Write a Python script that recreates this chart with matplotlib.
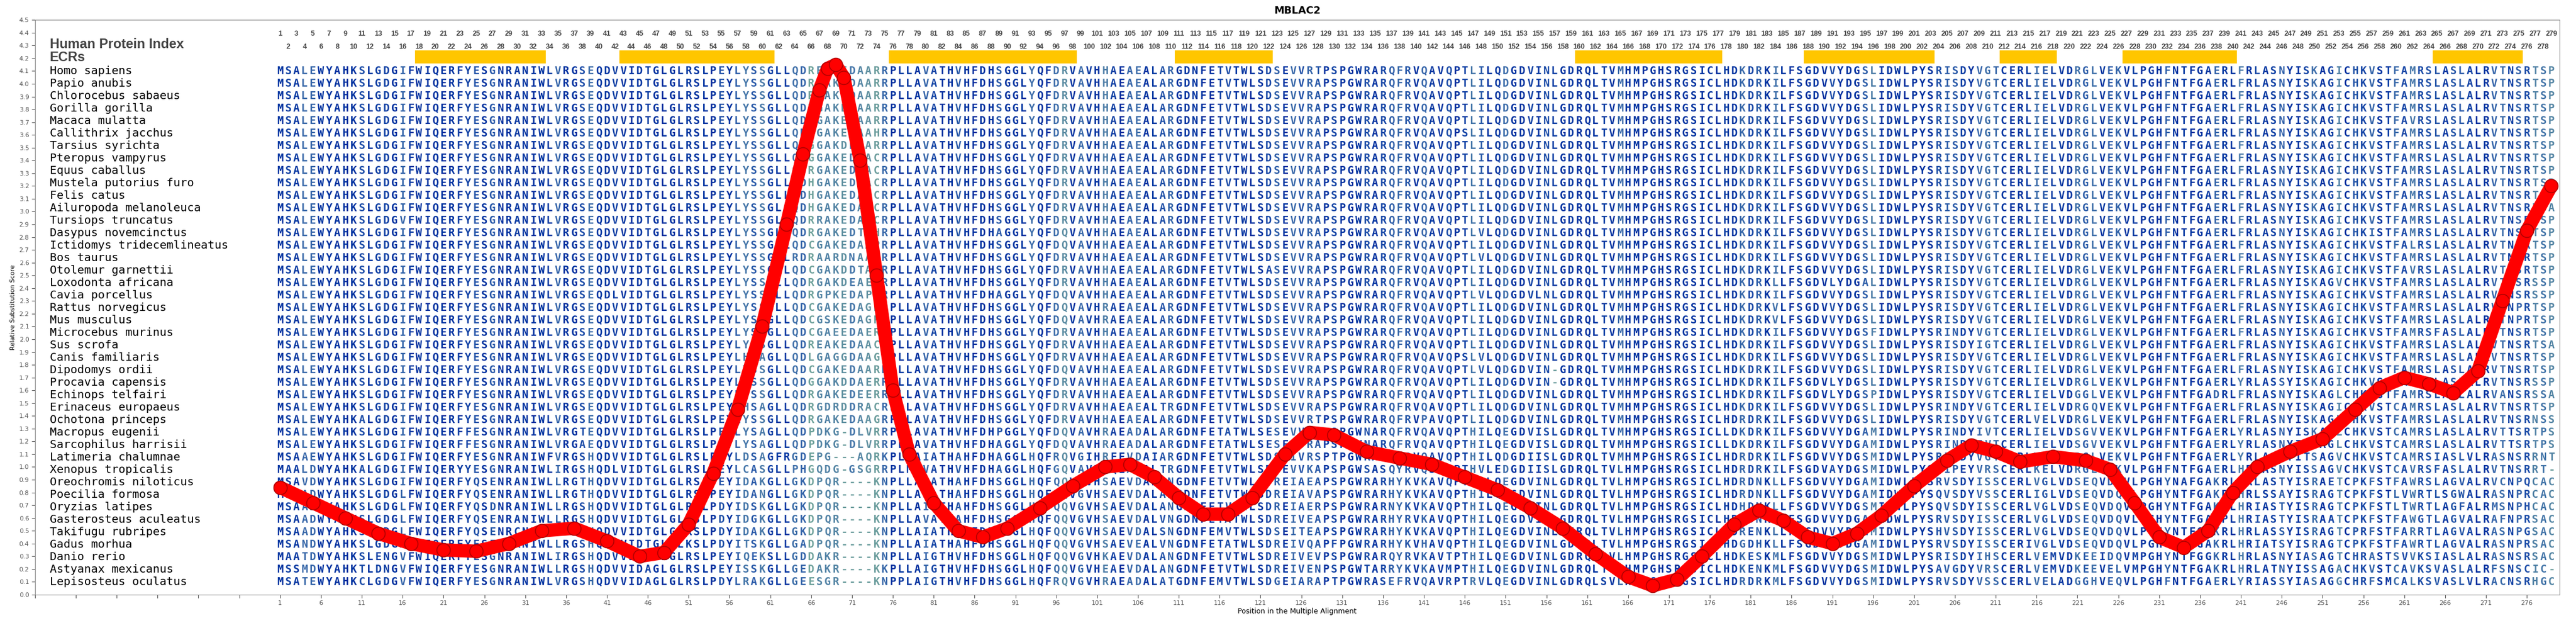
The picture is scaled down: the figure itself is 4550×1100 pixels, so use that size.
"""MBLAC2 multiple alignment with relative substitution score overlay."""

from collections import Counter

import matplotlib
matplotlib.use('Agg')
import matplotlib.pyplot as plt
from matplotlib.colors import LinearSegmentedColormap

TITLE = 'MBLAC2'

SPECIES = [
    'Homo sapiens', 'Papio anubis', 'Chlorocebus sabaeus', 'Gorilla gorilla',
    'Macaca mulatta', 'Callithrix jacchus', 'Tarsius syrichta', 'Pteropus vampyrus',
    'Equus caballus', 'Mustela putorius furo', 'Felis catus', 'Ailuropoda melanoleuca',
    'Tursiops truncatus', 'Dasypus novemcinctus', 'Ictidomys tridecemlineatus',
    'Bos taurus', 'Otolemur garnettii', 'Loxodonta africana', 'Cavia porcellus',
    'Rattus norvegicus', 'Mus musculus', 'Microcebus murinus', 'Sus scrofa',
    'Canis familiaris', 'Dipodomys ordii', 'Procavia capensis', 'Echinops telfairi',
    'Erinaceus europaeus', 'Ochotona princeps', 'Macropus eugenii',
    'Sarcophilus harrisii', 'Latimeria chalumnae', 'Xenopus tropicalis',
    'Oreochromis niloticus', 'Poecilia formosa', 'Oryzias latipes',
    'Gasterosteus aculeatus', 'Takifugu rubripes', 'Gadus morhua', 'Danio rerio',
    'Astyanax mexicanus', 'Lepisosteus oculatus',
]

# alignment pieces (positions 1-56, then 56-112, 112-168, 168-224, 224-279;
# first char of pieces 2-5 overlaps the previous piece)
A = 'MSALEWYAHKSLGDGIFWIQERFYESGNRANIWLVRGSEQDVVIDTGLGLRSLPEY'
SEG1 = [A] * 12 + [
    'MSALEWYAHKSLGDGVFWIQERFYESGNRANIWLVRGSEQDVVIDTGLGLRSLPEY',
] + [A] * 5 + [
    'MSALEWYAHKSLGDGIFWIQERFYESGNRANIWLVRGSEQDLVIDTGLGLRSLPEY',
] + [A] * 9 + [
    'MSALEWYAHKALGDGIFWIQERFYESGNRANIWLVRGSEQDVVIDTGLGLRSLPEY',
    'MSALEWYAHKSLGDGIFWIQERFFESGNRANIWLVRGTEQDVVIDTGLGLRSLPEY',
    'MSALEWYAHKSLGDGIFWIQERFFESGNRANIWLVRGAEQDVVIDTGLGLRSLPEY',
    'MSAAEWYAHKSLGDGIFWIQERFYESGNRANIWFVRGSHQDVVIDTGLGLRSLPEY',
    'MAALDWYAHKALGDGIFWIQERYYESGNRANIWLIRGSHQDLVIDTGLGLRSLPEY',
    'MSAVDWYAHKSLGDGIFWIQERFYQSENRANIWLLRGTHQDVVIDTGLGLRSLPEY',
    'MSAADWYAHKSLGDGLFWIQERFYQSENRANIWLLRGTHQDVVIDTGLGLRSLPEY',
    'MSAADWYAHKSLGDGLFWIQERFYQSDNRANIWLLRGSHQDVVIDTGLGLRSLPDY',
    'MSAADWYAHKSLGDGLFWIQERFYQSENRANIWLLRGSHQDVVIDTGLGLRSLPDY',
    'MSAADWYAHKSLGDGLFWIQERFYQSENRCNIWLLRGSHQDVVIDTGLGLRSLPDY',
    'MSANDWYAHKSLGDGMYWIQERFYESENRANIWLLRGSHQDVVIDTGLGLKSLPDY',
    'MAATDWYAHKSLENGVFWIQERFYESGNRANIWLIRGSHQDVVIDTGLGLRSLPEY',
    'MSSMDWYAHKTLDNGVFWIQERFYESGNRANIWLLRGSHQDVVIDAGLGLRSLPEY',
    'MSATEWYAHKCLGDGVFWIQERFYESGNRANIWLVRGSHQDVVIDAGLGLRSLPDY',
]

T = 'PLLAVATHVHFDHSGGLYQFDRVAVHHAEAEALARGD'
SEG2 = [
    'YLYSSGLLQDREAKEDAARR' + T,
    'YLYSSGLLQDRGAKEDAARR' + T,
    'YLYSSGLLQDRGAKEDAARR' + T,
    'YLYSSGLLQDRGAKEDAARR' + T,
    'YLYSSGLLQDRGAKEDAARR' + T,
    'YLYSSGLLQDRGAKEDAAHR' + T,
    'YLYSSGLLQDGGAKDDAARR' + T,
    'YLYSSGLLQDGGAKEDAACR' + T,
    'YLYSSGLLQDRGAKEDSACR' + T,
    'YLYSSGLLQDHGAKEDAACR' + T,
    'YLYSSGLLQDHGAKEDAACR' + T,
    'YLYSSGLLQDHGAKEDAACR' + T,
    'YLYSSGLLQDRRAKEDAACR' + T,
    'YLYSSGLLQDRGAKEDTAHRPLLAVATHVHFDHAGGLYQFDQVAVHHAEAEALARGD',
    'YLYSSGLLQDCGAKEDAAPRPLLAVATHVHFDHSGGLYQFDQVAVHHAEAEALARGD',
    'YLYSSGLLRDRAARDNAACR' + T,
    'YLYSSGLLQDCGAKDDTARR' + T,
    'YLYSSGLLQDRGAKDEAERR' + T,
    'YLYSSGLLQDRGPKEDAPRRPLLAVATHVHFDHAGGLYQFDQVAVHHAEAEALARGD',
    'YLYSSGLLQDCGAKEDAGRRPLLAVATHVHFDHSGGLYQFDQVAVHRAEAEALARGD',
    'YLYSSGLLQDCGSKEDAGRRPLLAVATHVHFDHSGGLYQFDQVAVHRAEAEALARGD',
    'YLYSSGLLQDCGAEEDAERR' + T,
    'YLYSSGLLQDREAKEDAACR' + T,
    'YLHSAGLLQDLGAGGDAAGR' + T,
    'YLYSSGLLQDCGAKEDAARRPLLAVATHVHFDHSGGLYQFDQVAVHHAEAEALARGD',
    'YLYSSGLLQDGGAKDDAERR' + T,
    'YLYSSGLLQDRGAKEDEERR' + T,
    'YLHSAGLLQDRGDRDDRACRPLLAVATHVHFDHSGGLYQFDRVAVHHAEAEALTRGD',
    'YLYSSGLLQDRGAKEDAAGR' + T,
    'YLYSAGLLQDPDKG-DLVRRPLLAVATHVHFDHPGGLYQFDQVAVHRAEADALARGD',
    'YLYSAGLLQDPDKG-DLVRRPLLAVATHVHFDHAGGLYQFDQVAVHRAEADALARGD',
    'YLDSAGFRGDEPG---AQRKPLLAIATHAHFDHAGGLHQFRQVGIHREEVDAIARGD',
    'YLCASGLLPHGQDG-GSGRRPLMAVATHVHFDHAGGLHQFGQVAVHRQEAEALTRGD',
    'YIDAKGLLGKDPQR----KNPLLAIATHAHFDHSGGLHQFQQVGVHSAEVDALANGD',
    'YIDANGLLGKDPQR----KNPLLAIATHAHFDHSGGLHQFQQVGVHSAEVDALANGD',
    'YIDSKGLLGKDPQR----KNPLLAIATHAHFDHSGGLHQFQQVGVHSAEVDALANGD',
    'YIDGKGLLGKDPQR----KNPLLAVATHAHFDHSGGLHQFQQVGVHSAEVDALVNGD',
    'YIDAKGLLGKDPQR----KNPLLAIATHAHFDHSGGLHQFQQVGVHSAEVDALSNGD',
    'YITSKGLLGADPQR----KNPLLAIATHAHFDHSGGLHQFQQVGVHSAEVEALVNGD',
    'YIQEKSLLGDDAKR----KNPLLAIGTHVHFDHSGGLHQFQQVGVHKAEVDALANGD',
    'YISSKGLLGEDAKR----KKPLLAIGTHVHFDHSGGLHQFQQVGVHEAEVDALANGD',
    'YLRAKGLLGEESGR----KNPPLAIGTHVHFDHSGGLHQFRQVGVHRAEADALATGD',
]

B = 'DNFETVTWLSDSEVVRAPSPGWRARQFRVQAVQPTLILQDGDVINLGDRQLTVMHMP'
SEG3 = [
    'DNFETVTWLSDSEVVRTPSPGWRARQFRVQAVQPTLILQDGDVINLGDRQLTVMHMP',
    B, B, B, B,
    'DNFETVTWLSDSEVVRAPSPGWRARQFRVQAVQPSLILQDGDVINLGDRQLTVMHMP',
    B, B, B, B, B, B, B,
    'DNFETVTWLSDSEVVRAPSPGWRARQFRVQAVQPTLVLQDGDVINLGDRQLTVMHMP',
    B,
    'DNFETVTWLSDSEVVRAPSPGWRARQFRVQAVQPTLVLQDGDVINLGDRQLTVMHMP',
    'DNFETVTWLSASEVVRAPSPGWRARQFRVQAVQPTLILQDGDVINLGDRQLTVMHMP',
    B,
    'DNFETVTWLSDSEVVRAPSPGWRARQFRVQAVQPTLVLQDGDVLNLGDRQLTVMHMP',
    B, B, B, B,
    'DNFETVTWLSDSEVVRAPSPGWRARQFRVQAVQPSLVLQDGDVINLGDRQLTVMHMP',
    'DNFETVTWLSDSEVVRAPSPGWRARQFRVQAVQPTLVLQDGDVIN-GDRQLTVMHMP',
    'DNFETVTWLSDSEVVRAPSPGWRARQFRVQAVQPTLILQDGDVIN-GDRQLTVMHMP',
    B, B,
    'DNFETVTWLSDSEVVRTPSPGWRARQFRVPAVQPTLILQDGDVINLGDRQLTVMHMP',
    'DNFETATWLSESEVVRAPSPGWNARQFRVQAVQPTHILQEGDVISLGDRQLTVMHMP',
    'DNFETATWLSESEVVRAPSPGWNARQFRVQAVQPTHILQEGDVISLGDRQLTVMHMP',
    'DNFETVTWLSDSEIVRSPTPGWRASQYRVQAVQPTHILQDGDIISLGDRQLTVMHMP',
    'DNFETVTWLSDSEVVKAPSPGWSASQYRVQSVKPTHVLEDGDIISLGDRQLTVLHMP',
    'DNFETVTWLSDREIAEAPSPGWRARHYKVKAVQPTHILQEGDVINLGDRQLTVLHMP',
    'DNFETVTWLSDREIAVAPSPGWRARHYKVKAVQPTHILQEGDVINLGDRQLTVLHMP',
    'DNFETVTWLSDREIAERPSPGWRARNYKVKAVQPTHILQEGDVINLGDRQLTVLHMP',
    'DNFETATWLSDREIVEAPSPGWRARHYRVKAVQPTHILQEGDVINLGDRQLTVLHMP',
    'DNFEMVTWLSDSEITEAPSPGWRARHYKVKAVQPTHILQEGDVINLGNRQLTVLHMP',
    'DNFETATWLSDREIVQAPFPGWRARHYKVHAVQPTHILQEGDVINLGDRQLTVLHMP',
    'DNFETVTWLSDREIVEVPSPGWRARQYRVKAVTPTHILQEGDVINLGDRQLSVLHMP',
    'DNFETVTWLSDREIVENPSPGWTARRYKVKAVMPTHILQEGDVINLGDRQLTVLHMP',
    'DNFEMVTWLSDGEIARAPTPGWRASEFRVQAVRPTRVLQEGDVINLGDRQLSVLHMP',
]

C = 'PGHSRGSICLHDKDRKILFSGDVVYDGSLIDWLPYSRISDYVGTCERLIELVDRGLV'
SEG4 = [C] * 17 + [
    'PGHSRGSICLHDKDRKLLFSGDVLYDGALIDWLPYSRISDYVGTCERLIELVDRGLV',
    C,
    'PGHSRGSICLHDKDRKVLFSGDVVYDGSLIDWLPYSRISDYVGTCERLIELVDRGLV',
    'PGHSRGSICLHDKDRKVLFSGDVVYDGSLIDWLPYSRISDYVGTCERLIELVDRGLV',
    'PGHSRGSICLHDKDRKILFSGDVVYDGSFIDWLPYSRINDYVGTCERLIELVDRGLV',
    'PGHSRGSICLHDKDRKILFSGDVVYDGSLIDWLPYSRISDYIGTCERLIELVDRGLV',
    C, C,
    'PGHSRGSICLHDKDRKILFSGDVLYDGSLIDWLPYSRISDYVGTCERLIELVDRGLV',
    'PGHSRGSICLHDKDRKILFSGDVLYDGSPIDWLPYSRISDYVGTCERLIELVDGGLV',
    'PGHSRGSICLHDKDRKILFSGDVVYDGSLIDWLPYSRINDYVGTCERLIELVDRGQV',
    'PGHSRGSICLHDRDRKILFSGDVVYDGSLIDWLPYSRISDYVGTCERLVELVDRGLV',
    'PGHSRGSICLLDKDRKILFSGDVVYDGAMIDWLPYSRINDYIVTCERLIELVDSGVV',
    'PGHSRGSICLLDKDRKILFSGDVVYDGAMIDWLPYSRINDYIVTCERLIELVDSGVV',
    'PGHSRGSICLHDRDRKILFSGDVVYDGSMIDWLPYSRIGDYVGTCERLVELVDRGLV',
    'PGHSRGSICLHDRDRKILFSGDVAYDGSMIDWLPYSNIPEYVRSCERLKELVDRGLV',
    'PGHSRGSICLHDRDNKLLFSGDVVYDGAMIDWLPYSRVSDYISSCERLVGLVDSEQV',
    'PGHSRGSICLHDRDNKLLFSGDVVYDGAMIDWLPYSQVSDYVSSCERLIGLVDSEQV',
    'PGHSRGSICLHDHDNKLLFSGDVVYDGSMIDWLPYSQVSDYISSCERLVGLVDSEQV',
    'PGHSRGSICLHDRDNKLLFSGDVVYDGAMIDWLPYSRVSDYISSCERLVGLVDSEQV',
    'PGHSRGSICLHDRENKLLFTGDVVYDGHMIDWLPYSHVSDYISSCERLVGLVDSEQV',
    'PGHSRGSICLHDGDHKLLFSGDVVYDGAMIDWLPYSRVSDYISSCERIVGLVDSEQV',
    'PGHSRGSICLHDKESKMLFSGDVVYDGSMIDWLPYSRISDYIHSCERLVEMVDKEEI',
    'PGHSRGSICLHDKENKMLFSGDVVYDGSMIDWLPYSAVGDYVRSCERLVEMVDKEEV',
    'PGHSRGSICLHDRDRKMLFSGDVVYDGSMIDWLPYSRVSDYVSSCERLVELADGGHV',
]

D = 'VEKVLPGHFNTFGAERLFRLASNYISKAGICHKVSTFAMRSLASLALRVTNSRTSP'
SEG5 = [
    D, D, D, D,
    'VEKVLPGHFNTFGAERLFRLASNYISKAGICHKVSTFAVRSLASLALRVTNSRTSP',
    D, D, D, D, D, D,
    'VEKVLPGHFNTFGAERLFRLASNYISKAGICHKVSTFAMRSLASLALRVTNSRTSA',
    D,
    'VEKVLPGHFNTFGAERLFRLASNYISKAGICHKISTFAMRSLASLALRVTNSRTSP',
    'VEKVLPGHFNTFGAERLFRLASNYISKAGICHKVSTFALRSLASLALRVTNSRTSP',
    D,
    'VEKVLPGHFNTFGAERLFRLASNYISKAGICHKVSTFAVRSLASLALRVTNSRTSP',
    'VEKVLPGHFNTFGAERLFRLASNYISKAGVCHKVSTFAMRSLASLALRVTNSRSSP',
    'VEKVLPGHFNTFGAERLFRLASNYISKAGICHKVSTFAMRSLASLALRVTNSRSSP',
    'VEKVLPGHFNTFGAERLFRLASNYISKAGICHKVSTFAMRSLASLALRVTNPRTSP',
    'VEKVLPGHFNTFGAERLFRLASNYISKAGICHKVSTFAMRSLASLALRVTNPRTSP',
    'VEKVLPGHFNTFGAERLFRLASNYISKAGICHKVSTFAMRSFASLALRVTNSRTSP',
    'VEKVLPGHFNTFGAERLFRLASNYISKAGICHKVSTFAMRSLASLALRVTNSRTSA',
    D, D,
    'VEKVLPGHFNTFGAERLYRLASSYISKAGICHKVSTFAMRSLASLALRVTNSRSSP',
    'VEKVLPGHFNTFGADRLFRLASNYISKAGLCHKVSTFAMRSLASLALRVANSRSSA',
    'VEKVLPGHFNTFGAERLFRLASNYISKAGICHKVSTCAMRSLASLALRVTNSRTSP',
    'VEKVLPGHFNTFGAERLFRLASNYISKAGLCHKVSTFAMRSLASLALRVTNSRNSS',
    'VEKVLPGHFNTFGAERLYRLASNYISKAGLCHKVSTCAMRSLASLALRVTTSRTPS',
    'VEKVLPGHFNTFGAERLYRLASNYISKAGLCHKVSTCAMRSLASLALRVTTSRTPS',
    'VEKVLPGHFNTFGAERLYRLASNYITSAGVCHKVSTCAMRSIASLVLRASNSRRNT',
    'VEKVLPGHFNTFGAERLHRLASNYISSAGVCHKVSTCAVRSFASLALRVTNSRRT-',
    'VDQVLPGHYNAFGAKRLHRLASTYISRAETCPKFSTFAWRSLAGVALRVCNPQCAC',
    'VDQVLPGHYNTFGAKRLHRLSSAYISRAGTCPKFSTLVWRTLSGWALRASNPRCAC',
    'VDQVLPGHYNTFGAKRLHRIASTYISRAGTCPKFSTLTWRTLAGFALRMSNPHCAC',
    'VDQVLPGHYNTFGAKPLHRIASTYISRAATCPKFSTFAWGTLAGVALRAFNPRSAC',
    'VDQVLPGHYNTFGAKRLHRLASSYISRAGTCPRFSTFARRTLAGVALRASNPGSAC',
    'VDQVLPGHYNTFGAKRLHRIATSYISRAGTCPKFSTFAWRTLAGVALRASNPRSAC',
    'IDQVMPGHYNTFGGKRLHRLASNYIASAGTCHRASTSVVKSIASLALRASNSRSAC',
    'VELVMPGHYNTFGAKRLHRLATNYISSAGACHKVSTCAVKSVASLALRFSNSCIC-',
    'VEQVLPGHFNTFGAERLYRIASSYIASAGGCHRFSMCALKSVASLVLRACNSRHGC',
]

N_POS = 279

# evolutionarily conserved regions (start, end position)
ECR_START = [18, 43, 76, 111, 160, 188, 212, 227, 265]
ECR_END = [33, 61, 98, 122, 177, 203, 218, 240, 275]

# relative substitution score
SCORE_POS = [1, 5, 9, 13, 17, 21, 25, 29, 33, 37, 41, 45, 48, 51, 54, 57, 60, 63,
             65, 67, 68, 69, 70, 72, 74, 76, 78, 81, 84, 87, 90, 94, 98, 102, 105,
             108, 111, 114, 117, 120, 124, 127, 130, 134, 138, 142, 146, 150, 154,
             158, 162, 166, 169, 172, 175, 179, 182, 185, 188, 191, 194, 197, 201,
             205, 208, 211, 214, 218, 222, 225, 228, 231, 234, 237, 240, 243, 247,
             251, 255, 258, 261, 264, 267, 270, 273, 276, 279]
SCORE = [0.84, 0.72, 0.60, 0.48, 0.40, 0.35, 0.34, 0.40, 0.50, 0.52, 0.42, 0.30,
         0.33, 0.55, 0.95, 1.45, 2.10, 2.90, 3.45, 3.95, 4.12, 4.15, 4.05, 3.40,
         2.50, 1.60, 1.10, 0.72, 0.50, 0.45, 0.52, 0.68, 0.85, 1.00, 1.02, 0.92,
         0.76, 0.63, 0.63, 0.76, 1.10, 1.27, 1.25, 1.12, 1.07, 1.02, 0.92, 0.82,
         0.68, 0.52, 0.32, 0.14, 0.07, 0.12, 0.30, 0.55, 0.66, 0.58, 0.45, 0.40,
         0.48, 0.62, 0.85, 1.05, 1.17, 1.12, 1.04, 1.08, 1.05, 0.98, 0.72, 0.45,
         0.37, 0.50, 0.80, 1.00, 1.12, 1.22, 1.45, 1.62, 1.70, 1.65, 1.58, 1.75,
         2.30, 2.85, 3.20]

LABEL_FONT = ['Liberation Sans', 'DejaVu Sans']
GREY = '#444444'


def build_rows():
    rows = []
    for parts in zip(SEG1, SEG2, SEG3, SEG4, SEG5):
        seq = parts[0] + ''.join(p[1:] for p in parts[1:])
        rows.append(seq[:N_POS].ljust(N_POS, '-'))
    return rows


def column_identity(rows):
    ident = []
    for i in range(N_POS):
        col = [r[i] for r in rows]
        ident.append(Counter(col).most_common(1)[0][1] / len(col))
    return ident


def main():
    rows = build_rows()
    ident = column_identity(rows)
    cmap = LinearSegmentedColormap.from_list(
        'cons', [(0.0, '#8cc49a'), (0.45, '#6a9c9c'), (0.7, '#4474aa'),
                 (0.9, '#1f4fa8'), (1.0, '#0032a0')])

    fig = plt.figure(figsize=(45.5, 11), dpi=100)
    ax = fig.add_axes([0.0136, 0.0455, 0.98, 0.9225])
    ax.set_xlim(-29, 280)
    ax.set_ylim(0, 4.5)

    n = len(rows)
    ys = [4.1 - i * 4.0 / (n - 1) for i in range(n)]

    for y, name, seq in zip(ys, SPECIES, rows):
        ax.text(-27.2, y, name, family='DejaVu Sans Mono', fontsize=14.5,
                va='center', ha='left', color='black')
        for i, ch in enumerate(seq):
            colour = '#6a9c9c' if ch == '-' else cmap(ident[i])
            ax.text(i + 1, y, ch, family='DejaVu Sans Mono', fontweight='bold',
                    fontsize=13.5, ha='center', va='center', color=colour)

    for p in range(1, N_POS + 1):
        ty = 4.39 if p % 2 else 4.29
        ax.text(p, ty, str(p), family=LABEL_FONT, fontweight='bold', fontsize=9,
                ha='center', va='center', color=GREY)

    for s, e in zip(ECR_START, ECR_END):
        ax.fill_between([s - 0.5, e + 0.5], 4.16, 4.26, color='#ffc600', lw=0)

    ax.text(-27.2, 4.31, 'Human Protein Index', family=LABEL_FONT, fontweight='bold',
            fontsize=17, va='center', ha='left', color=GREY)
    ax.text(-27.2, 4.205, 'ECRs', family=LABEL_FONT, fontweight='bold',
            fontsize=17, va='center', ha='left', color=GREY)

    ax.plot(SCORE_POS, SCORE, color='red', lw=17, solid_capstyle='round',
            solid_joinstyle='round', zorder=3)
    ax.plot(SCORE_POS, SCORE, 'o', color='red', ms=17, mec='#b00000', mew=1.2,
            zorder=3)

    ax.set_xticks(list(range(-29, 280, 5)))
    ax.set_xticklabels([str(t) if t > 0 else '' for t in range(-29, 280, 5)])
    ax.set_yticks([i / 10 for i in range(46)])
    ax.set_yticklabels([f'{i / 10:.1f}' for i in range(46)])
    ax.tick_params(labelsize=8, colors='#555555', length=4)
    for s in ax.spines.values():
        s.set_color('#888888')
    ax.set_xlabel('Position in the Multiple Alignment', fontsize=9, labelpad=2)
    ax.set_ylabel('Relative Substitution Score', fontsize=8, labelpad=4)
    ax.set_title(TITLE, fontsize=13, fontweight='bold', pad=8)

    fig.savefig('out.png', dpi=100)
    plt.close(fig)


if __name__ == '__main__':
    main()
